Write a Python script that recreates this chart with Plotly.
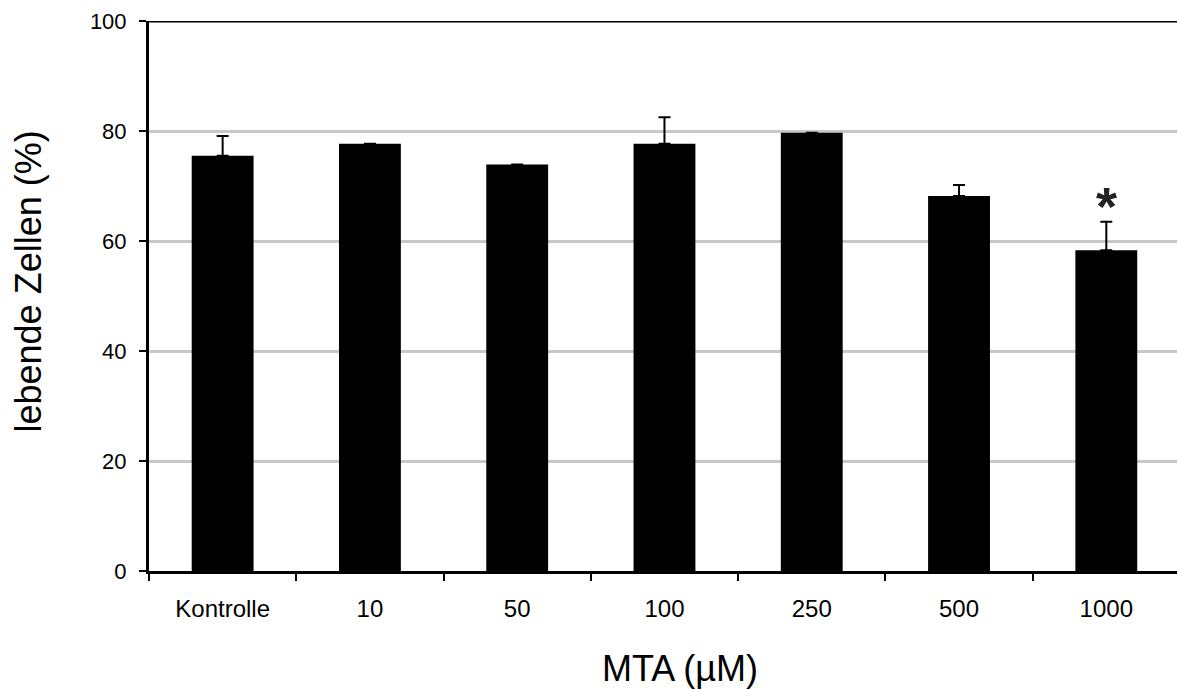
import plotly.graph_objects as go

# Viability of cells after MTA treatment
categories = ["Kontrolle", "10", "50", "100", "250", "500", "1000"]
viable_pct = [75.5, 77.7, 73.9, 77.7, 79.7, 68.2, 58.3]
error_up = [3.6, None, None, 4.8, None, 2.0, 5.2]
y_ticks = [0, 20, 40, 60, 80, 100]
significant = [6]  # index of the concentration marked with *

FONT = "Liberation Sans, Arial, sans-serif"

fig = go.Figure()
fig.add_trace(go.Bar(
    x=categories,
    y=viable_pct,
    width=0.42,
    marker=dict(color="black", line=dict(width=0)),
    error_y=dict(type="data", symmetric=False, array=error_up,
                 arrayminus=[0] * len(error_up),
                 color="black", thickness=2, width=6),
))

# significance marker above the error bar
for i in significant:
    fig.add_annotation(x=i, y=viable_pct[i] + error_up[i] + 2.8,
                       text="<b>*</b>", showarrow=False,
                       xanchor="center", yanchor="middle",
                       font=dict(family=FONT, size=54, color="#222"))

# top frame line
fig.add_shape(type="line", xref="paper", yref="y", x0=0, x1=1, y0=100, y1=100,
              line=dict(color="black", width=3))

# axis titles
fig.add_annotation(xref="paper", yref="paper", x=-0.1172, y=0.5255,
                   text="lebende Zellen (%)", textangle=-90, showarrow=False,
                   xanchor="center", yanchor="middle",
                   font=dict(family=FONT, size=36, color="black"))
fig.add_annotation(xref="paper", yref="paper", x=0.517, y=-0.178,
                   text="MTA (µM)", showarrow=False,
                   xanchor="center", yanchor="middle",
                   font=dict(family=FONT, size=36, color="black"))

fig.update_layout(
    width=1177, height=689,
    margin=dict(l=149, r=0, t=21, b=118),
    plot_bgcolor="white", paper_bgcolor="white",
    showlegend=False,
    font=dict(family=FONT, color="black"),
)
fig.update_xaxes(
    type="category",
    range=[-0.5, 6.48],
    showline=True, linecolor="black", linewidth=3,
    ticks="outside", ticklen=7, tickwidth=2, tickcolor="black",
    tickson="boundaries",
    showgrid=False,
    tickfont=dict(size=24),
    ticklabelstandoff=14,
)
fig.update_yaxes(
    range=[0, 100],
    tickvals=y_ticks,
    showline=True, linecolor="black", linewidth=3,
    ticks="outside", ticklen=7, tickwidth=2, tickcolor="black",
    showgrid=True, gridcolor="#c8c8c8", gridwidth=3,
    zeroline=False,
    tickfont=dict(size=22),
    ticklabelstandoff=8,
)

fig.write_html("out.html")
